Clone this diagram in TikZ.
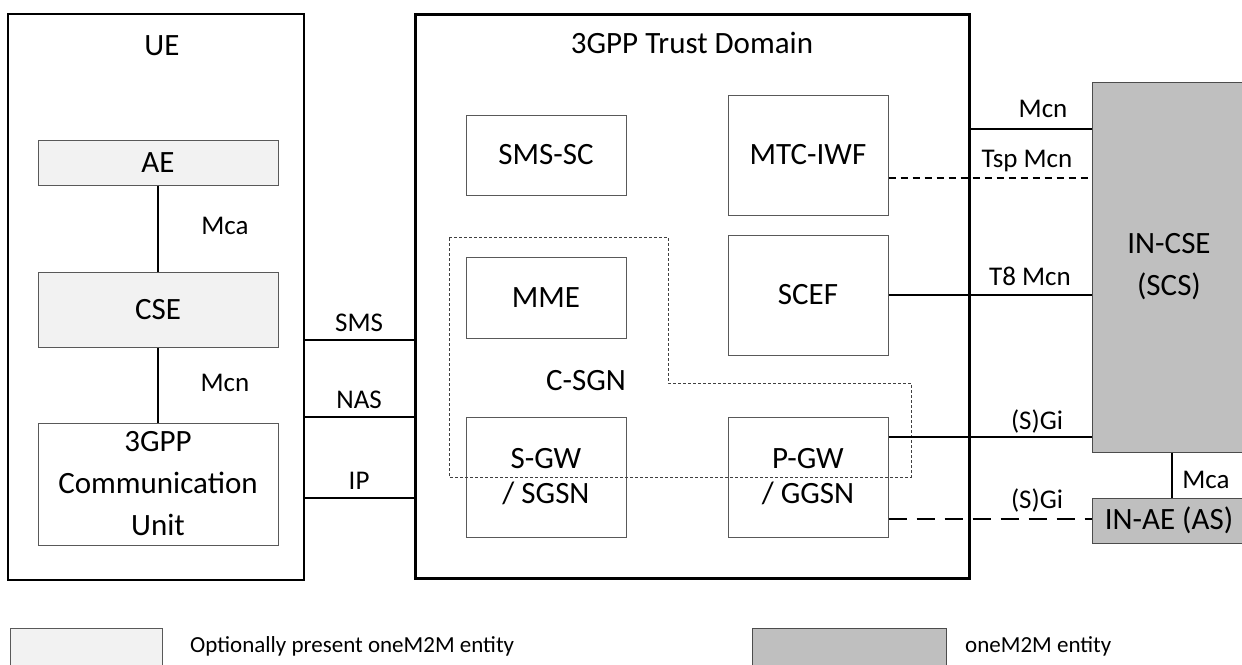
\documentclass[tikz,border=0pt]{standalone}
\usepackage{fontspec}
\setmainfont{Carlito}
\usetikzlibrary{positioning,calc}
\definecolor{optgray}{HTML}{F2F2F2}
\definecolor{entgray}{HTML}{BFBFBF}
\begin{document}
\begin{tikzpicture}[x=1pt,y=-1pt,
	every node/.style={inner sep=0pt,font=\fontsize{31}{42}\selectfont,align=center},
	unit/.style={draw=black!65,line width=1pt},
	optional/.style={unit,fill=optgray},
	entity/.style={draw=black!70,line width=1pt,fill=entgray},
	tight/.style={font=\fontsize{31}{35}\selectfont},
	lbl/.style={font=\fontsize{27}{30}\selectfont},
	leg/.style={font=\fontsize{23}{26}\selectfont},
	link/.style={line width=1.6pt},
	optlink/.style={link,dash pattern=on 7pt off 5pt},
	longlink/.style={link,dash pattern=on 18pt off 10pt}]

  \useasboundingbox (0,0) rectangle (1242,664);

  % UE side
  \node [draw,line width=1.3pt,minimum width=296pt,minimum height=566pt] (ue) at (156,297) {};
  \node (uet) at (162,46) {UE};
  \node [optional,minimum width=240pt,minimum height=45pt] (ae) at (158,162.5) {AE};
  \node [optional,minimum width=240pt,minimum height=75pt] (cse) at (158,309.5) {CSE};
  \node [unit,minimum width=240pt,minimum height=122pt] (cu) at (158,484) {3GPP\\Communication\\Unit};

  % 3GPP trust domain
  \node [draw,line width=3pt,minimum width=554pt,minimum height=564pt] (td) at (692,296) {};
  \node (tdt) at (692,43) {3GPP Trust Domain};
  \node [unit,minimum width=160pt,minimum height=80pt] (smssc) at (546,155) {SMS-SC};
  \node [unit,minimum width=160pt,minimum height=120pt] (mtciwf) at (808,155) {MTC-IWF};
  \node [unit,minimum width=160pt,minimum height=81pt] (mme) at (546,297.5) {MME};
  \node [unit,minimum width=160pt,minimum height=120pt] (scef) at (808,295) {SCEF};
  \node [unit,tight,minimum width=160pt,minimum height=120pt] (sgw) at (546,477) {S-GW\\/ SGSN};
  \node [unit,tight,minimum width=160pt,minimum height=120pt] (pgw) at (808,477) {P-GW\\/ GGSN};
  \draw [black!75,line width=0.8pt,dash pattern=on 3pt off 2pt]
    (449,237) -- (668,237) -- (668,383) -- (911,383) -- (911,477) -- (449,477) -- cycle;
  \node (csgn) at (586,381) {C-SGN};

  % infrastructure side
  \node [entity,minimum width=154pt,minimum height=370pt] (incse) at (1169,267) {IN-CSE\\(SCS)};
  \node [entity,minimum width=154pt,minimum height=45pt] (inae) at (1169,520.5) {IN-AE (AS)};

  % y levels of the reference points
  \coordinate (ysms) at (0,340);
  \coordinate (ynas) at (0,417);
  \coordinate (yip) at (0,498);
  \coordinate (ymcn) at (0,129);
  \coordinate (ytsp) at (0,178);
  \coordinate (ysgi) at (0,437);
  \coordinate (ysgid) at (0,519);
  \coordinate (xmca) at (1172,0);

  \draw [link] (ae) -- (cse);
  \draw [link] (cse) -- (cu);
  \node [lbl] at (225,226) {Mca};
  \node [lbl] at (225,383) {Mcn};

  \foreach \y/\t in {sms/SMS,nas/NAS,ip/IP}{
	  \draw [link] (ue.east |- y\y) -- (td.west |- y\y);
	  \node [lbl,above=8pt] at ($(ue.east |- y\y)!0.5!(td.west |- y\y)$) {\t};
  }

  \draw [link] (td.east |- ymcn) -- (incse.west |- ymcn);
  \draw [optlink] (mtciwf.east |- ytsp) -- (incse.west |- ytsp);
  \draw [link] (scef.east) -- (incse.west |- scef.east);
  \draw [link] (pgw.east |- ysgi) -- (incse.west |- ysgi);
  \draw [longlink] (pgw.east |- ysgid) -- (inae.west |- ysgid);
  \draw [link] (incse.south -| xmca) -- (inae.north -| xmca);
  \node [lbl] at (1043,109) {Mcn};
  \node [lbl] at (1027,161) {Tsp Mcn};
  \node [lbl] at (1030,276) {T8 Mcn};
  \node [lbl] at (1037,421) {(S)Gi};
  \node [lbl] at (1037,500) {(S)Gi};
  \node [lbl] at (1206,480) {Mca};

  % legend
  \node [optional,minimum width=152pt,minimum height=50pt] (lopt) at (86,653) {};
  \node [leg,anchor=west] (lopttxt) at (190,646) {Optionally present oneM2M entity};
  \node [entity,minimum width=194pt,minimum height=50pt] (lent) at (849,653) {};
  \node [leg,anchor=west] (lenttxt) at (965,646) {oneM2M entity};

\end{tikzpicture}
\end{document}
